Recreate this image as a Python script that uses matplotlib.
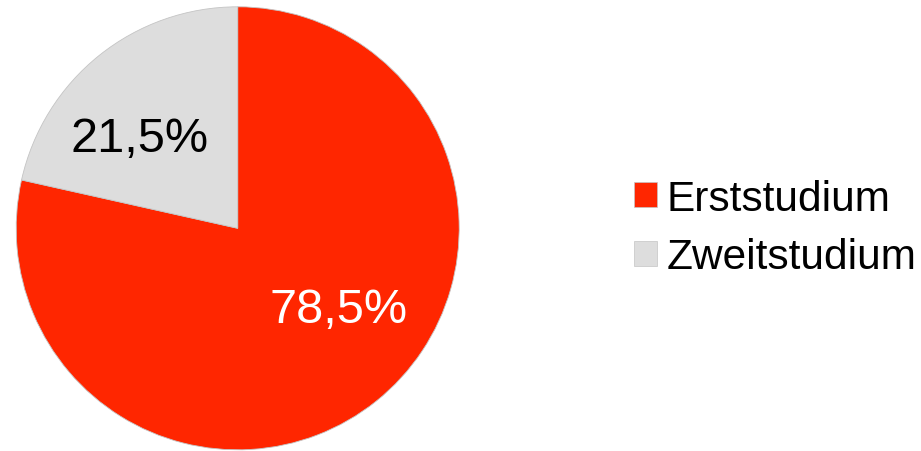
import matplotlib
matplotlib.use("Agg")
import matplotlib.pyplot as plt
from matplotlib.patches import Patch
import numpy as np

categories = ["Erststudium", "Zweitstudium"]
values = [78.5, 21.5]
colors = ["#FF2600", "#DDDDDD"]
label_colors = ["white", "black"]

plt.rcParams['font.family'] = ['Liberation Sans', 'DejaVu Sans']

W, H = 921, 452
fig = plt.figure(figsize=(W / 100, H / 100), dpi=100)
cx, cy, r = 237.7, 229.3, 221.5
ax = fig.add_axes([(cx - r) / W, (H - cy - r) / H, 2 * r / W, 2 * r / H])
wedges, _ = ax.pie(values, colors=colors, startangle=90, counterclock=False,
                   wedgeprops=dict(edgecolor="#c4c4c4", linewidth=0.6))
ax.set_xlim(-1, 1)
ax.set_ylim(-1, 1)
ax.set_aspect("equal")
ax.axis("off")

# label placement (angle in degrees, radius fraction)
label_pos = [(-38.7, 0.585), (137.6, 0.60)]
for v, (ang, rad), tc in zip(values, label_pos, label_colors):
    t = np.deg2rad(ang)
    ax.text(rad * np.cos(t), rad * np.sin(t), f"{v:.1f}".replace('.', ',') + "%",
            ha="center", va="center", fontsize=35, color=tc)

handles = [Patch(facecolor=c, edgecolor="#c4c4c4", linewidth=0.5) for c in colors]
fig.legend(handles, categories, loc="center left",
           bbox_to_anchor=(634 / W, 1 - 229 / H), frameon=False,
           fontsize=30.5, handlelength=0.55, handleheight=0.55, handletextpad=0.22,
           labelspacing=0.44, borderpad=0, borderaxespad=0)

fig.savefig("out.png", dpi=100)
